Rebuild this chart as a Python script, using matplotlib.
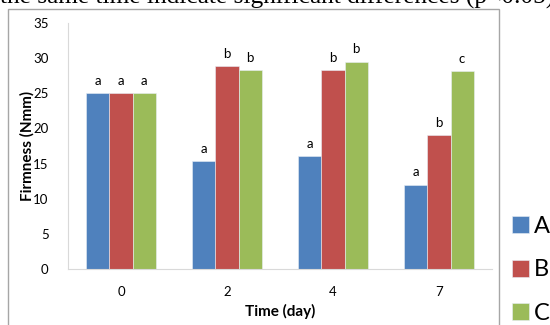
import numpy as np
import matplotlib.pyplot as plt
from matplotlib.patches import Rectangle

# Firmness of samples over storage time
days = ["0", "2", "4", "7"]
series = ["A", "B", "C"]
firm_a = [25.0, 15.4, 16.1, 12.0]
firm_b = [25.0, 28.9, 28.3, 19.0]
firm_c = [25.0, 28.3, 29.5, 28.1]
letters_a = ["a", "a", "a", "a"]
letters_b = ["a", "b", "b", "b"]
letters_c = ["a", "b", "b", "c"]

colors = ["#4F81BD", "#C0504D", "#9BBB59"]
font = ["Lato", "DejaVu Sans"]

fig = plt.figure(figsize=(5.5, 3.25), dpi=100)
W, H = 550, 325

# caption line above the chart, partly cut off
fig.text(0, 1 - 4 / H, "the same time indicate significant differences (p<0.05)",
         family=["Liberation Serif"], fontsize=18.3, va="baseline", ha="left")

# chart border
fig.patches.append(Rectangle((8 / W, -0.1), (499 - 8) / W, 1.1 - 9.5 / H,
                             transform=fig.transFigure, fill=False,
                             edgecolor="#A6A6A6", linewidth=1.0))

ax = fig.add_axes([68 / W, 1 - 269 / H, (492 - 68) / W, (269 - 23) / H])

x = np.arange(len(days))
w = 0.218
for i, (vals, labs) in enumerate(zip([firm_a, firm_b, firm_c],
                                     [letters_a, letters_b, letters_c])):
    pos = x + (i - 1) * w
    ax.bar(pos, vals, width=w, color=colors[i], edgecolor="#E8EEF6",
           linewidth=0.4, label=series[i])
    for px, v, t in zip(pos, vals, labs):
        ax.annotate(t, (px, v), xytext=(0, 4.5), textcoords="offset points",
                    ha="center", va="bottom", fontsize=9.5, family=font)

ax.set_xlim(-0.5, len(days) - 0.5)
ax.set_ylim(0, 35)
ax.set_yticks(np.arange(0, 36, 5))
ax.set_xticks(x)
ax.set_xticklabels(days)
ax.tick_params(length=0, labelsize=9.5)
ax.tick_params(axis="y", pad=14)
ax.tick_params(axis="x", pad=12)
for lab in ax.get_xticklabels() + ax.get_yticklabels():
    lab.set_family(font)

for s in ["top", "right"]:
    ax.spines[s].set_visible(False)
for s in ["left", "bottom"]:
    ax.spines[s].set_color("#D9D9D9")

fig.text(27 / W, 1 - 146 / H, "Firmness (Nmm)", rotation=90, ha="center",
         va="center", fontsize=11, fontweight="bold", family=font)
fig.text(280 / W, 1 - 311 / H, "Time (day)", ha="center", va="center",
         fontsize=11, fontweight="bold", family=font)

handles, labels = ax.get_legend_handles_labels()
fig.legend(handles, labels, loc="center left",
           bbox_to_anchor=(500 / W, 1 - 270 / H), frameon=False,
           prop={"family": font, "size": 17}, handlelength=0.72,
           handleheight=0.72, handletextpad=0.2, labelspacing=0.95,
           borderpad=0)

fig.savefig("out.png", dpi=100)
